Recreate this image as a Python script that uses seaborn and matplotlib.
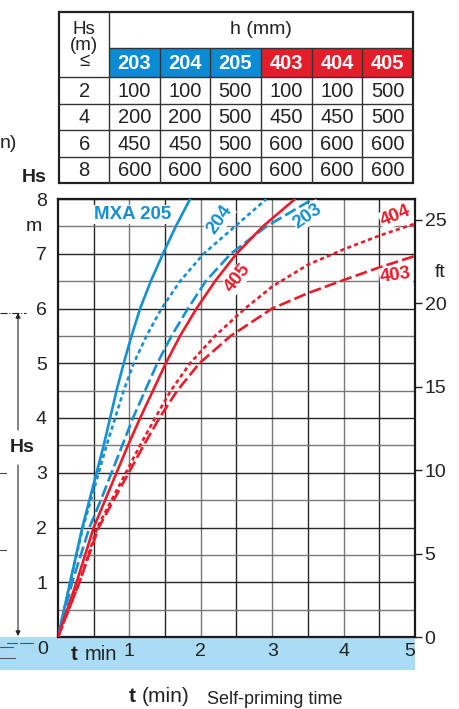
import numpy as np
import pandas as pd
import matplotlib
matplotlib.use('Agg')
import matplotlib.pyplot as plt
import seaborn as sns
from matplotlib.patches import Rectangle
from matplotlib.lines import Line2D
from matplotlib.transforms import blended_transform_factory

# self-priming time (min) to reach a suction lift Hs (m)
hs_common = [0, 1, 2, 2.5, 3, 3.5, 4, 4.5, 5, 5.5, 6, 6.5, 7, 7.5, 8]
t_205 = [0, 0.17, 0.34, 0.44, 0.54, 0.64, 0.73, 0.82, 0.92, 1.03, 1.15, 1.30, 1.47, 1.65, 1.85]
t_204 = [0, 0.17, 0.35, 0.46, 0.57, 0.68, 0.80, 0.92, 1.06, 1.24, 1.45, 1.71, 2.04, 2.48, 2.92]
t_203 = [0, 0.20, 0.44, 0.60, 0.75, 0.90, 1.05, 1.22, 1.39, 1.59, 1.82, 2.07, 2.42, 2.92, 3.57]
t_405 = [0, 0.26, 0.50, 0.66, 0.82, 0.98, 1.15, 1.33, 1.51, 1.71, 1.94, 2.20, 2.50, 2.87, 3.32]
hs_404 = [0, 1, 2, 2.5, 3, 3.5, 4, 4.5, 5, 5.5, 6, 6.4, 6.8, 7.08, 7.33, 7.55]
t_404 = [0, 0.30, 0.55, 0.75, 0.95, 1.15, 1.36, 1.58, 1.85, 2.20, 2.62, 3.0, 3.5, 4.0, 4.5, 5.0]
hs_403 = [0, 1, 2, 2.5, 3, 3.5, 4, 4.5, 5, 5.5, 6, 6.28, 6.52, 6.75, 6.96]
t_403 = [0, 0.30, 0.57, 0.78, 0.99, 1.20, 1.42, 1.67, 1.98, 2.42, 3.00, 3.5, 4.0, 4.5, 5.0]

# table: h (mm) per model for Hs <= 2, 4, 6, 8 m
models = ['203', '204', '205', '403', '404', '405']
hs_rows = [2, 4, 6, 8]
h_203 = [100, 200, 450, 600]
h_204 = [100, 200, 450, 600]
h_205 = [500, 500, 500, 600]
h_403 = [100, 450, 600, 600]
h_404 = [100, 450, 600, 600]
h_405 = [500, 500, 600, 600]

BLUE = '#1590d2'
RED = '#ea1c2a'
HEAD_BLUE = '#0a8bd3'
HEAD_RED = '#e41d2b'
WATER = '#aadcf5'
FONT = ['Liberation Sans', 'DejaVu Sans']

sns.set_style('white')
plt.rcParams['font.family'] = FONT

curves = [('205', t_205, hs_common), ('204', t_204, hs_common), ('203', t_203, hs_common),
          ('405', t_405, hs_common), ('404', t_404, hs_404), ('403', t_403, hs_403)]
df = pd.concat([pd.DataFrame({'model': m, 't': t, 'Hs': h}) for m, t, h in curves],
               ignore_index=True)
palette = {'205': BLUE, '204': BLUE, '203': BLUE, '405': RED, '404': RED, '403': RED}
dashes = {'205': '', '204': (1.6, 1.2), '203': (4.6, 1.6),
          '405': '', '404': (1.6, 1.2), '403': (4.6, 1.6)}

W, H = 460, 709
def fx(px):
    return px / W
def fy(py):
    return 1 - py / H

fig = plt.figure(figsize=(W / 100, H / 100), dpi=100)
ax = fig.add_axes([fx(58), fy(637), (415 - 58) / W, (637 - 199) / H])

sns.lineplot(data=df, x='t', y='Hs', hue='model', style='model', palette=palette,
             dashes=dashes, sort=False, estimator=None, lw=1.9, legend=False, ax=ax,
             zorder=3)

ax.set_xlim(0, 5)
ax.set_ylim(0, 8)
ax.set_xlabel('')
ax.set_ylabel('')

# grid: integer / half lines
ax.set_xticks([1, 2, 3, 4, 5])
ax.set_xticks([0.5, 1.5, 2.5, 3.5, 4.5], minor=True)
ax.set_yticks([1, 2, 3, 4, 5, 6, 7, 8])
ax.set_yticks([0.5, 1.5, 2.5, 3.5, 4.5, 5.5, 6.5, 7.5], minor=True)
ax.xaxis.grid(True, which='major', color='#777777', lw=1.0)
ax.xaxis.grid(True, which='minor', color='#262626', lw=1.0)
ax.yaxis.grid(True, which='major', color='#262626', lw=1.0)
ax.yaxis.grid(True, which='minor', color='#777777', lw=1.0)
ax.set_axisbelow(True)
ax.tick_params(axis='both', which='both', length=0)
ax.tick_params(axis='x', labelsize=14, pad=4, colors='#222')
ax.tick_params(axis='y', labelsize=14, pad=8, colors='#222')
for lab in ax.get_xticklabels():
    if lab.get_text() == '5':
        lab.set_ha('right')
for s in ax.spines.values():
    s.set_linewidth(1.6)
    s.set_color('#1a1a1a')

# right axis in feet
ax2 = ax.twinx()
ax2.set_ylim(0, 8 / 0.3048)
ax2.set_yticks([0, 5, 10, 15, 20, 25])
ax2.tick_params(axis='y', length=5, width=1, labelsize=14, pad=2, colors='#222')
for s in ax2.spines.values():
    s.set_visible(False)

# curve labels
ax.text(1.05, 7.72, 'MXA 205', color=BLUE, fontsize=13.5, fontweight='bold', ha='center',
        va='center', bbox=dict(fc='white', ec='none', pad=1), zorder=4)
ax.text(2.27, 7.62, '204', color=BLUE, fontsize=13.5, fontweight='bold', rotation=55,
        ha='center', va='center', bbox=dict(fc='white', ec='none', pad=0.5), zorder=4)
ax.text(3.5, 7.69, '203', color=BLUE, fontsize=13.5, fontweight='bold', rotation=35,
        ha='center', va='center', bbox=dict(fc='white', ec='none', pad=0.5), zorder=4)
ax.text(2.52, 6.56, '405', color=RED, fontsize=13.5, fontweight='bold', rotation=52,
        ha='center', va='center', bbox=dict(fc='white', ec='none', pad=0.5), zorder=4)
ax.text(4.73, 7.69, '404', color=RED, fontsize=13.5, fontweight='bold', rotation=22,
        ha='center', va='center', bbox=dict(fc='white', ec='none', pad=0.5), zorder=4)
ax.text(4.73, 6.60, '403', color=RED, fontsize=13.5, fontweight='bold', rotation=8,
        ha='center', va='center', bbox=dict(fc='white', ec='none', pad=0.5), zorder=4)

# unit labels
yt = blended_transform_factory(ax.transAxes, ax.transData)
ax.text(-0.045, 7.5, 'm', transform=yt, fontsize=14, ha='right', va='center', color='#222')
ax.text(1.07, 6.65, 'ft', transform=yt, fontsize=14, ha='center', va='center', color='#222')
fig.text(fx(34), fy(178), 'Hs', fontsize=14, fontweight='bold', ha='center', va='center',
         color='#222')
fig.text(fx(0), fy(143), 'n)', fontsize=14, ha='left', va='center', color='#222')

# water band under the axis
fig.patches.append(Rectangle((0, fy(670)), fx(415), fy(637) - fy(670),
                             transform=fig.transFigure, fc=WATER, ec='none', zorder=-1))
fig.text(fx(42.5), fy(650), '0', fontsize=14, ha='center', va='center', color='#222')
fig.text(fx(74), fy(655), 't', fontsize=14.5, fontweight='bold', ha='center', va='center',
         color='#222')
fig.text(fx(101), fy(655), 'min', fontsize=14.5, ha='center', va='center', color='#222')

# left dimension line for Hs
ax.annotate('', xy=(fx(18), fy(313)), xytext=(fx(18), fy(430)),
            xycoords='figure fraction', textcoords='figure fraction',
            arrowprops=dict(arrowstyle='-|>', lw=0.8, color='#222', mutation_scale=7,
                            shrinkA=0, shrinkB=0))
ax.annotate('', xy=(fx(18), fy(636)), xytext=(fx(18), fy(465)),
            xycoords='figure fraction', textcoords='figure fraction',
            arrowprops=dict(arrowstyle='-|>', lw=0.8, color='#222', mutation_scale=7,
                            shrinkA=0, shrinkB=0))
fig.add_artist(Line2D([fx(0), fx(26)], [fy(313), fy(313)], lw=0.8, ls='-.', color='#222'))
fig.text(fx(22), fy(447), 'Hs', fontsize=14, fontweight='bold', ha='center', va='center',
         color='#222')
for yy in [473, 550]:
    fig.add_artist(Line2D([fx(0), fx(6)], [fy(yy), fy(yy)], lw=0.8, color='#444'))
for x0, x1, yy in [(7, 17, 643), (20, 33, 643), (0, 13, 647), (0, 15, 658)]:
    fig.add_artist(Line2D([fx(x0), fx(x1)], [fy(yy), fy(yy)], lw=0.8, color='#555'))

# bottom caption
fig.text(fx(132), fy(696), 't', fontsize=15, fontweight='bold', ha='center', va='center',
         color='#222')
fig.text(fx(166), fy(696), '(min)', fontsize=15, ha='center', va='center', color='#222')
fig.text(fx(275), fy(700), 'Self-priming time', fontsize=13, ha='center', va='center',
         color='#222')

# table
col_x = [59.3, 109, 159.6, 210, 260.5, 312, 362, 413.3]
row_y = [11.7, 47.7, 77.3, 103.5, 130, 156.5, 182.7]
tab = fig.add_axes([fx(col_x[0]), fy(row_y[-1]), (col_x[-1] - col_x[0]) / W,
                    (row_y[-1] - row_y[0]) / H])
tab.set_xlim(col_x[0], col_x[-1])
tab.set_ylim(row_y[-1], row_y[0])
tab.axis('off')

values = [h_203, h_204, h_205, h_403, h_404, h_405]
for j, m in enumerate(models):
    fc = HEAD_BLUE if m.startswith('2') else HEAD_RED
    tab.add_patch(Rectangle((col_x[j + 1], row_y[1]), col_x[j + 2] - col_x[j + 1],
                            row_y[2] - row_y[1], fc=fc, ec='none', clip_on=False))
    tab.text((col_x[j + 1] + col_x[j + 2]) / 2, (row_y[1] + row_y[2]) / 2 + 1, m,
             color='white', fontsize=14.5, fontweight='bold', ha='center', va='center')
    for i, v in enumerate(values[j]):
        tab.text((col_x[j + 1] + col_x[j + 2]) / 2, (row_y[i + 2] + row_y[i + 3]) / 2 + 1,
                 str(v), fontsize=14.5, ha='center', va='center', color='#222')
for i, hs in enumerate(hs_rows):
    tab.text((col_x[0] + col_x[1]) / 2, (row_y[i + 2] + row_y[i + 3]) / 2 + 1, str(hs),
             fontsize=14.5, ha='center', va='center', color='#222')
tab.text((col_x[1] + col_x[-1]) / 2, (row_y[0] + row_y[1]) / 2, 'h (mm)', fontsize=14,
         ha='center', va='center', color='#222')
tab.text((col_x[0] + col_x[1]) / 2, (row_y[0] + row_y[2]) / 2 + 1, 'Hs\n(m)\n≤',
         fontsize=13.5, ha='center', va='center', color='#222', linespacing=0.92)

line_kw = dict(color='#333', lw=1.0, clip_on=False)
tab.plot([col_x[1], col_x[1]], [row_y[0], row_y[-1]], **line_kw)
for x in col_x[2:-1]:
    tab.plot([x, x], [row_y[1], row_y[-1]], **line_kw)
tab.plot([col_x[1], col_x[-1]], [row_y[1], row_y[1]], **line_kw)
for y in row_y[2:-1]:
    tab.plot([col_x[0], col_x[-1]], [y, y], **line_kw)
tab.add_patch(Rectangle((col_x[0], row_y[0]), col_x[-1] - col_x[0], row_y[-1] - row_y[0],
                        fc='none', ec='#222', lw=1.6, clip_on=False))

fig.savefig('out.png', dpi=100)
